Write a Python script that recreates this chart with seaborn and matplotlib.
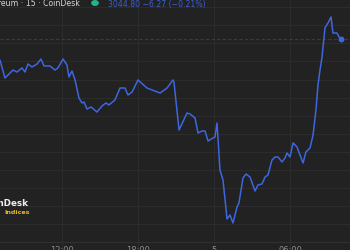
import matplotlib
matplotlib.use("Agg")
import matplotlib.pyplot as plt
import seaborn as sns
import pandas as pd

# ---- data (hours since midnight of first day, price in USD) ----
hours = [7.10, 7.50, 8.13, 8.45, 8.84, 9.08, 9.32, 9.63, 10.03, 10.34, 10.58, 11.05,
         11.45, 11.68, 12.08, 12.39, 12.55, 12.79, 13.03, 13.34, 13.58, 13.74, 13.97,
         14.29, 14.76, 15.16, 15.47, 15.71, 16.18, 16.58, 16.97, 17.21, 17.53, 18.00,
         18.71, 19.74, 20.29, 20.76, 20.84, 21.24, 21.87, 22.11, 22.50, 22.74, 23.05,
         23.29, 23.53, 23.92, 24.08, 24.24, 24.47, 24.71, 25.03, 25.26, 25.50, 25.82,
         25.97, 26.29, 26.53, 26.84, 27.24, 27.47, 27.79, 28.03, 28.26, 28.58, 28.82,
         29.05, 29.37, 29.61, 29.76, 30.00, 30.24, 30.55, 31.03, 31.26, 31.58, 31.82,
         32.05, 32.21, 32.37, 32.53, 32.76, 33.00, 33.24, 33.39, 33.71, 33.87, 34.03]
prices = [3021.6, 3001.7, 3010.5, 3008.3, 3012.8, 3008.3, 3017.2, 3013.9, 3017.2, 3022.7,
          3015.0, 3015.0, 3010.5, 3012.8, 3022.7, 3016.1, 3002.8, 3009.4, 2999.5, 2979.6,
          2974.1, 2975.2, 2967.4, 2969.7, 2964.1, 2970.8, 2974.1, 2971.9, 2977.4, 2990.6,
          2990.6, 2982.9, 2986.2, 2999.5, 2990.6, 2985.1, 2990.6, 2999.5, 2997.3, 2944.2,
          2963.0, 2961.9, 2957.5, 2940.9, 2943.1, 2943.1, 2932.1, 2935.4, 2936.5, 2952.0,
          2900.0, 2889.0, 2845.9, 2850.3, 2841.5, 2859.2, 2863.6, 2891.2, 2895.6, 2892.3,
          2876.8, 2883.5, 2884.6, 2892.3, 2894.5, 2911.1, 2914.4, 2914.4, 2908.9, 2913.3,
          2918.8, 2914.4, 2929.9, 2925.5, 2907.8, 2920.0, 2924.4, 2938.7, 2966.3, 2994.0,
          3010.5, 3024.9, 3057.0, 3062.5, 3069.1, 3051.4, 3051.4, 3047.0, 3044.8]
last_price = 3044.80
change = -6.27
change_pct = -0.21
tick_hours = [12, 18, 24, 30]
tick_labels = ["12:00", "18:00", "5", "06:00"]
grid_prices = list(range(2820, 3100, 20))

df = pd.DataFrame({"hour": hours, "price": prices})

sns.set_theme(style="dark")
plt.rcParams["font.family"] = ["DejaVu Sans"]

bg = "#222222"
fig = plt.figure(figsize=(3.5, 2.5), dpi=100, facecolor=bg)
ax = fig.add_axes([0, 0, 1, 1])
ax.set_facecolor(bg)

ax.set_xlim(7.105, 34.737)
ax.set_ylim(2811.6, 3087.9)

for gp in grid_prices:
    ax.axhline(gp, color="#2c2c2c", lw=0.8, zorder=0)
for th in tick_hours:
    ax.axvline(th, color="#2c2c2c", lw=0.8, zorder=0)
ax.axhline(2820, color="#303030", lw=0.9, zorder=0)

# last price dashed line
ax.axhline(last_price, color="#27405e", lw=0.8, ls=(0, (3, 2)), zorder=1)

sns.lineplot(data=df, x="hour", y="price", ax=ax, color="#3d66df", lw=1.1, zorder=3)
ax.plot([hours[-1]], [prices[-1]], "o", color="#3d66df", ms=3.2, zorder=4)

ax.set_xticks(tick_hours)
ax.set_xticklabels(tick_labels)
ax.set_yticks([])
ax.tick_params(axis="x", length=0, pad=-3.2, labelsize=6, colors="#8a8a8a")
ax.set_xlabel("")
ax.set_ylabel("")
for s in ax.spines.values():
    s.set_visible(False)

# header
fig.text(80 / 350, 1 - 4 / 250, "Ethereum · 15 · CoinDesk", ha="right", va="center",
         fontsize=5.6, color="#d8d8d8")
fig.patches.append(matplotlib.patches.Circle((95 / 350, 1 - 3 / 250), 0.009,
                   transform=fig.transFigure, color="#1fb58d", zorder=5))
fig.text(108 / 350, 1 - 4 / 250,
         f"{last_price:.2f} \u2212{abs(change):.2f} (\u2212{abs(change_pct):.2f}%)",
         ha="left", va="center", fontsize=5.6, color="#3a5fd0")

# logo
fig.text(29 / 350, 1 - 204 / 250, "CoinDesk", ha="right", va="center",
         fontsize=6.3, fontweight="bold", color="#f0f0f0")
fig.text(30 / 350, 1 - 212 / 250, "Indices", ha="right", va="center",
         fontsize=4.6, fontweight="bold", color="#e6b422")

fig.savefig("out.png", dpi=100, facecolor=bg)
